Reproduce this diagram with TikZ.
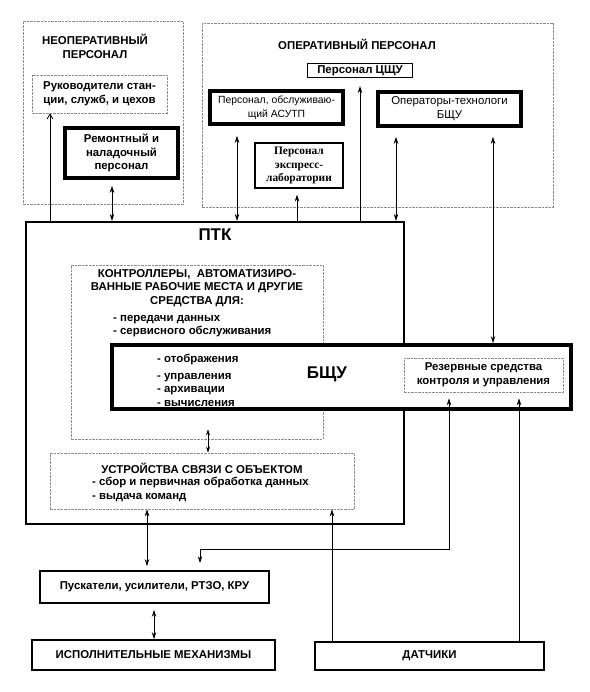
\documentclass[tikz,border=0pt]{standalone}
\usepackage{fontspec}
\setmainfont{Liberation Sans}
\newfontfamily\serifbf{Liberation Serif}
\usetikzlibrary{arrows.meta}
\newcommand\fs{\fontsize{11.4}{13.7}\selectfont}
\newcommand\fbig{\fontsize{17}{19}\selectfont}
\tikzset{
  box/.style={draw, rectangle, inner sep=0pt, align=center, font=\bfseries\fs},
  dbox/.style={box, draw=black!45, dash pattern=on 2.5pt off 1pt, line width=0.6pt},
  thickbox/.style={box, line width=3.6pt},
  medbox/.style={box, line width=1.8pt},
  thinbox/.style={box, line width=1.1pt},
  txt/.style={inner sep=0pt, align=center, font=\bfseries\fs},
  ltxt/.style={inner sep=0pt, align=left, anchor=west, font=\bfseries\fs},
  arr/.style={line width=0.8pt, -{Stealth[length=7pt,width=4.5pt]}},
  darr/.style={line width=0.8pt, {Stealth[length=7pt,width=4.5pt]}-{Stealth[length=7pt,width=4.5pt]}},
  sdarr/.style={line width=0.8pt, {Stealth[length=6pt,width=4pt]}-{Stealth[length=6pt,width=4pt]}},
  openarr/.style={line width=0.8pt, -{Straight Barb[length=5pt,width=6pt]}}
}
\begin{document}
\begin{tikzpicture}[x=1pt,y=-1pt]
\useasboundingbox (0,0) rectangle (589,692);
% x positions for connectors
\coordinate (x50) at (50,0);
\coordinate (x112) at (112,0);
\coordinate (x237) at (237,0);
\coordinate (x297) at (297,0);
\coordinate (x360) at (360,0);
\coordinate (x396) at (396,0);
\coordinate (x493) at (493,0);
\coordinate (x208) at (208,0);
\coordinate (x147) at (147,0);
\coordinate (x449) at (449,0);
\coordinate (x200) at (200,0);
\coordinate (x332) at (332,0);
\coordinate (x519) at (519,0);
\coordinate (x154) at (154,0);
\coordinate (k1) at (449,549);
\coordinate (k2) at (200,549);

% non-operative staff
\node[dbox, minimum width=160pt, minimum height=183pt] (neop) at (103,112.5) {};
\node[txt] (neopt) at (95,46.5) {НЕОПЕРАТИВНЫЙ\\ПЕРСОНАЛ};
\node[dbox, minimum width=135pt, minimum height=38pt] (ruk) at (99.5,94) {Руководители стан-\\ции, служб, и цехов};
\node[thickbox, font=\bfseries\fontsize{11.4}{13.2}\selectfont, minimum width=113pt, minimum height=50pt] (rem) at (121.5,153) {Ремонтный и\\наладочный\\персонал};

% operative staff
\node[dbox, minimum width=351pt, minimum height=184pt] (op) at (377.5,115) {};
\node[txt] (opt) at (357,44) {ОПЕРАТИВНЫЙ ПЕРСОНАЛ};
\node[thinbox, minimum width=105pt, minimum height=14pt] (cshu) at (360,70.5) {Персонал ЦЩУ};
\node[thickbox, font=\fontsize{10.4}{13.7}\selectfont, minimum width=133pt, minimum height=33pt] (asutp) at (276.5,107.5) {Персонал, обслуживаю-\\щий АСУТП};
\node[thickbox, font=\fs, minimum width=143pt, minimum height=34pt] (oper) at (449.5,109) {Операторы-технологи\\БЩУ};
\node[thinbox, font=\serifbf\bfseries\fontsize{11.4}{13.5}\selectfont, minimum width=88pt, minimum height=45pt] (expr) at (299,165.5) {Персонал\\экспресс-\\лаборатории};

% PTK
\node[box, line width=2.2pt, minimum width=378pt, minimum height=302pt] (ptk) at (215,373) {};
\node[txt, font=\bfseries\fbig] (ptkt) at (215,235) {ПТК};
\node[dbox, minimum width=252pt, minimum height=174pt] (ctrl) at (197,352) {};
\node[txt] (ctrlt) at (197,288) {КОНТРОЛЛЕРЫ, \ АВТОМАТИЗИРО-\\ВАННЫЕ РАБОЧИЕ МЕСТА И ДРУГИЕ\\СРЕДСТВА ДЛЯ:};
\node[ltxt] (ctrll) at (113,326) {- передачи данных\\- сервисного обслуживания};
\node[box, fill=white, line width=3.8pt, minimum width=459pt, minimum height=64pt] (bshu) at (341.5,377) {};
\node[txt, font=\bfseries\fbig] (bshut) at (327,374) {БЩУ};
\node[ltxt, font=\bfseries\fontsize{11.4}{13.3}\selectfont] (bshul) at (157,380) {- отображения\\[4pt]- управления\\- архивации\\- вычисления};
\node[dbox, fill=white, minimum width=159pt, minimum height=34pt] (rez) at (483.5,375) {Резервные средства\\контроля и управления};
\node[dbox, minimum width=304pt, minimum height=56pt] (usv) at (202,481) {};
\node[txt] (usvt) at (202,468) {УСТРОЙСТВА СВЯЗИ С ОБЪЕКТОМ};
\node[ltxt, font=\bfseries\fontsize{11.4}{13.2}\selectfont] (usvl) at (92,489.5) {- сбор и первичная обработка данных\\- выдача команд};

% bottom
\node[medbox, minimum width=229pt, minimum height=32pt] (pusk) at (154.5,587) {Пускатели, усилители, РТЗО, КРУ};
\node[medbox, minimum width=243pt, minimum height=30pt] (isp) at (153.5,655) {ИСПОЛНИТЕЛЬНЫЕ МЕХАНИЗМЫ};
\node[medbox, minimum width=229pt, minimum height=28pt] (dat) at (429.5,656) {ДАТЧИКИ};

% connectors
\draw[openarr] (x50 |- ptk.north) -- (x50 |- ruk.south);
\draw[darr, shorten <=6pt] (x112 |- rem.south) -- (x112 |- ptk.north);
\draw[darr, shorten <=10pt] (x237 |- asutp.south) -- (x237 |- ptk.north);
\draw[arr, shorten >=6pt] (x297 |- ptk.north) -- (x297 |- expr.south);
\draw[arr, shorten >=8pt] (x360 |- ptk.north) -- (x360 |- cshu.south);
\draw[darr, shorten <=9pt] (x396 |- oper.south) -- (x396 |- ptk.north);
\draw[darr, shorten <=9pt] (x493 |- oper.south) -- (x493 |- bshu.north);
\draw[sdarr, shorten <=-10pt] (x208 |- ctrl.south) -- (x208 |- usv.north);
\draw[darr, shorten >=4pt] (x147 |- usv.south) -- (x147 |- pusk.north);
\draw[darr, shorten <=6pt, shorten >=7pt] (x449 |- rez.south) -- (k1) -- (k2) -- (x200 |- pusk.north);
\draw[arr] (x332 |- dat.north) -- (x332 |- usv.south);
\draw[arr, shorten >=6pt] (x519 |- dat.north) -- (x519 |- rez.south);
\draw[darr, shorten <=6pt] (x154 |- pusk.south) -- (x154 |- isp.north);
\end{tikzpicture}
\end{document}
